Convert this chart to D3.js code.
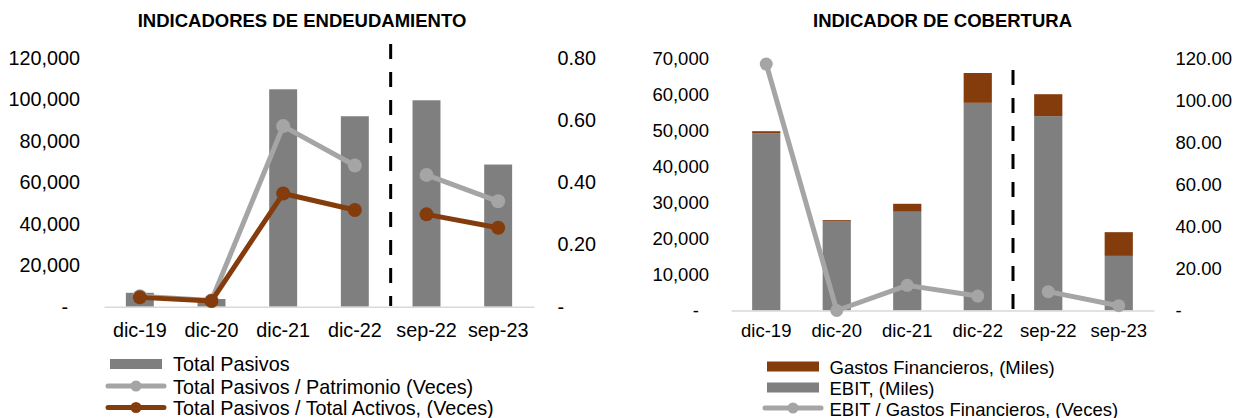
<!DOCTYPE html>
<html>
<head>
<meta charset="utf-8">
<script src="https://cdn.jsdelivr.net/npm/d3@7"></script>
<style>
  html, body { margin: 0; padding: 0; background: #fff; }
  svg { display: block; font-family: "Liberation Sans", Arial, sans-serif; }
</style>
</head>
<body>
<svg id="chart" width="1243" height="418"></svg>
<script>
// ---------- DATA ----------
const categories = ["dic-19", "dic-20", "dic-21", "dic-22", "sep-22", "sep-23"];
const periodGroup = ["anual", "anual", "anual", "anual", "interino", "interino"];

// Indicadores de endeudamiento
const totalPasivos = [6700, 3700, 104900, 91900, 99600, 68600];
const pasivosPatrimonio = [0.034, 0.020, 0.581, 0.454, 0.424, 0.339];
const pasivosActivos = [0.030, 0.018, 0.364, 0.311, 0.297, 0.254];
const endeudTicksLeft = [0, 20000, 40000, 60000, 80000, 100000, 120000];
const endeudTicksRight = [0, 0.2, 0.4, 0.6, 0.8];

// Indicador de cobertura
const ebit = [49300, 24900, 27500, 57800, 54100, 15200];
const gastosFinancieros = [600, 250, 2200, 8300, 6100, 6600];
const ebitGastos = [117.6, 0.0, 12.0, 6.9, 9.0, 2.3];
const coberTicksLeft = [0, 10000, 20000, 30000, 40000, 50000, 60000, 70000];
const coberTicksRight = [0, 20, 40, 60, 80, 100, 120];

const titles = ["INDICADORES DE ENDEUDAMIENTO", "INDICADOR DE COBERTURA"];
const legendLeft = ["Total Pasivos", "Total Pasivos / Patrimonio (Veces)", "Total Pasivos / Total Activos, (Veces)"];
const legendRight = ["Gastos Financieros, (Miles)", "EBIT, (Miles)", "EBIT / Gastos Financieros, (Veces)"];

// ---------- STYLE ----------
const C_BAR = "#7F7F7F";
const C_BROWN = "#843C0C";
const C_LGRAY = "#A5A5A5";
const C_AXIS = "#D9D9D9";
const FONT = "Liberation Sans, Arial, sans-serif";

const svg = d3.select("#chart");

function fmtLeft(v) { return v === 0 ? "-" : d3.format(",")(v); }

function drawChart(cfg) {
  const FS = cfg.fs;
  const g = svg.append("g");
  const x = d3.scaleBand().domain(categories).range([cfg.x0, cfg.x1])
    .paddingInner(cfg.pad).paddingOuter(cfg.pad / 2);
  const yL = d3.scaleLinear().domain([0, cfg.maxL]).range([cfg.yBase, cfg.yTop]);
  const yR = d3.scaleLinear().domain([0, cfg.maxR]).range([cfg.yBase, cfg.yTop]);
  const cx = d => x(d) + x.bandwidth() / 2;

  // title
  g.append("text").attr("x", cfg.titleX).attr("y", 27)
    .attr("text-anchor", "middle").attr("font-weight", "bold")
    .attr("font-size", 18.5).attr("fill", "#000").text(cfg.title);

  // left axis
  const axL = d3.axisLeft(yL).tickValues(cfg.ticksL).tickFormat(fmtLeft).tickSize(0);
  const gL = g.append("g").attr("transform", `translate(${cfg.labLX},0)`).call(axL);
  gL.select(".domain").remove();
  gL.selectAll("text").attr("font-size", FS).attr("fill", "#000")
    .attr("font-family", FONT)
    .attr("x", d => d === 0 ? -cfg.dashOff : 0);

  // right axis
  const axR = d3.axisRight(yR).tickValues(cfg.ticksR).tickFormat(cfg.fmtR).tickSize(0);
  const gR = g.append("g").attr("transform", `translate(${cfg.labRX},0)`).call(axR);
  gR.select(".domain").remove();
  gR.selectAll("text").attr("font-size", FS).attr("fill", "#000")
    .attr("font-family", FONT).attr("x", 0);

  // bars
  cfg.stacks.forEach(st => {
    g.append("g").selectAll("rect").data(categories).join("rect")
      .attr("x", d => x(d))
      .attr("width", x.bandwidth())
      .attr("y", (d, i) => yL(st.base[i] + st.values[i]))
      .attr("height", (d, i) => yL(st.base[i]) - yL(st.base[i] + st.values[i]))
      .attr("fill", st.color);
  });

  // category axis
  const axB = d3.axisBottom(x).tickSize(0).tickPadding(0);
  const gB = g.append("g").attr("transform", `translate(0,${cfg.yBase})`).call(axB);
  gB.select(".domain").attr("stroke", C_AXIS).attr("stroke-width", 1.5);
  gB.selectAll("text").attr("font-size", FS).attr("fill", "#000")
    .attr("font-family", FONT)
    .attr("dy", null).attr("y", 337 - cfg.yBase);

  // dashed separator between anual & interino
  const sepX = (cx(categories[3]) + cx(categories[4])) / 2;
  g.append("line").attr("x1", sepX).attr("x2", sepX)
    .attr("y1", cfg.dashTop).attr("y2", cfg.dashBottom)
    .attr("stroke", "#000").attr("stroke-width", 3).attr("stroke-dasharray", "15,13");

  // lines (broken between groups)
  cfg.lines.forEach(ln => {
    const pts = categories.map((c, i) => ({ c, v: ln.values[i], grp: periodGroup[i] }));
    const groups = d3.groups(pts, d => d.grp);
    const line = d3.line().x(d => cx(d.c)).y(d => yR(d.v));
    groups.forEach(([k, arr]) => {
      g.append("path").datum(arr).attr("d", line)
        .attr("fill", "none").attr("stroke", ln.color).attr("stroke-width", 5)
        .attr("stroke-linejoin", "round");
    });
    g.append("g").selectAll("circle").data(pts).join("circle")
      .attr("cx", d => cx(d.c)).attr("cy", d => yR(d.v)).attr("r", cfg.mr)
      .attr("fill", ln.color);
  });

  // legend
  const lg = g.append("g");
  cfg.legend.forEach((it, i) => {
    const yb = cfg.legY[i];
    if (it.type === "rect") {
      lg.append("rect").attr("x", cfg.legX).attr("y", yb - 12).attr("width", cfg.legW).attr("height", 10)
        .attr("fill", it.color);
    } else {
      lg.append("line").attr("x1", cfg.legX - 2).attr("x2", cfg.legX + cfg.legW + 2)
        .attr("y1", yb - 7.5).attr("y2", yb - 7.5)
        .attr("stroke", it.color).attr("stroke-width", 5).attr("stroke-linecap", "round");
      lg.append("circle").attr("cx", cfg.legX + cfg.legW / 2).attr("cy", yb - 7.5).attr("r", 5.5)
        .attr("fill", it.color);
    }
    lg.append("text").attr("x", cfg.legTX).attr("y", yb).attr("font-size", FS)
      .attr("fill", "#000").text(it.label);
  });
}

drawChart({
  title: titles[0], titleX: 302, fs: 19.8, mr: 7, dashOff: 12,
  x0: 104, x1: 534, pad: 0.61,
  yBase: 306.7, yTop: 58,
  maxL: 120000, maxR: 0.8,
  ticksL: endeudTicksLeft, ticksR: endeudTicksRight,
  fmtR: v => v === 0 ? "-" : d3.format(".2f")(v),
  labLX: 80, labRX: 557.5,
  dashTop: 44, dashBottom: 306,
  stacks: [{ values: totalPasivos, base: categories.map(() => 0), color: C_BAR }],
  lines: [
    { values: pasivosPatrimonio, color: C_LGRAY },
    { values: pasivosActivos, color: C_BROWN }
  ],
  legend: [
    { type: "rect", color: C_BAR, label: legendLeft[0] },
    { type: "line", color: C_LGRAY, label: legendLeft[1] },
    { type: "line", color: C_BROWN, label: legendLeft[2] }
  ],
  legX: 110, legW: 52, legTX: 173, legY: [371, 393.5, 415]
});

drawChart({
  title: titles[1], titleX: 942.5, fs: 18.5, mr: 6.5, dashOff: 10,
  x0: 731, x1: 1154, pad: 0.6,
  yBase: 310.5, yTop: 59,
  maxL: 70000, maxR: 120,
  ticksL: coberTicksLeft, ticksR: coberTicksRight,
  fmtR: v => v === 0 ? "-" : d3.format(".2f")(v),
  labLX: 709, labRX: 1175.5,
  dashTop: 70, dashBottom: 310,
  stacks: [
    { values: ebit, base: categories.map(() => 0), color: C_BAR },
    { values: gastosFinancieros, base: ebit, color: C_BROWN }
  ],
  lines: [{ values: ebitGastos, color: C_LGRAY }],
  legend: [
    { type: "rect", color: C_BROWN, label: legendRight[0] },
    { type: "rect", color: C_BAR, label: legendRight[1] },
    { type: "line", color: C_LGRAY, label: legendRight[2] }
  ],
  legX: 767, legW: 52, legTX: 829.5, legY: [373.5, 394.5, 415.5]
});
</script>
</body>
</html>
